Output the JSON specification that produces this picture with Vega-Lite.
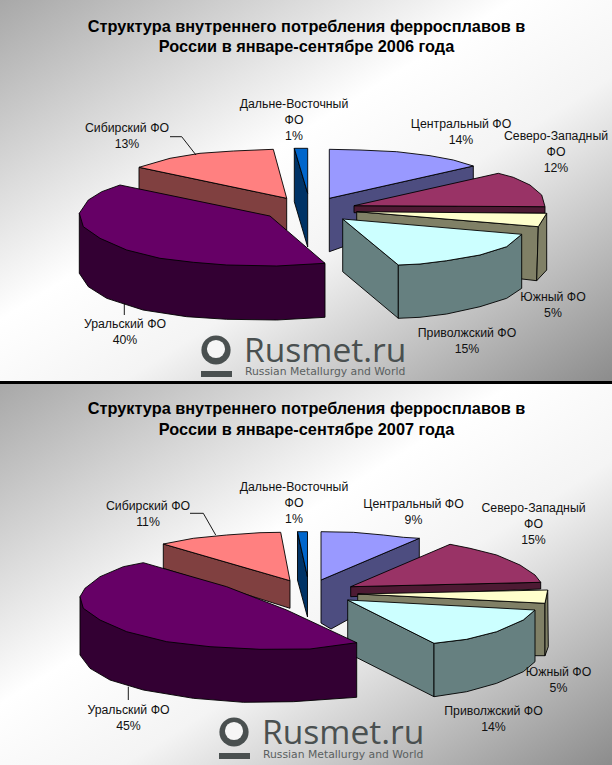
{"$schema":"https://vega.github.io/schema/vega-lite/v6.json","width":612,"height":765,"padding":0,"autosize":{"type":"none"},"background":"#ffffff","config":{"view":{"stroke":null}},
"encoding":{"x":{"field":"x","type":"quantitative","axis":null,"scale":{"domain":[0,612],"nice":false,"zero":false}},"y":{"field":"y","type":"quantitative","axis":null,"scale":{"domain":[765,0],"nice":false,"zero":false}}},
"layer":[
{"data":{"values":[{"x":0,"x2":612,"y":0,"y2":381},{"x":0,"x2":612,"y":384,"y2":765}]},"mark":{"type":"rect","fill":{"gradient":"linear","x1":0,"y1":0,"x2":1,"y2":1,"stops":[{"offset":0,"color":"#a8a8a8"},{"offset":0.42,"color":"#ffffff"},{"offset":0.6,"color":"#f4f4f4"},{"offset":1,"color":"#8c8c8c"}]}},"encoding":{"x2":{"field":"x2"},"y2":{"field":"y2"}}},
{"data":{"values":[{"x":0,"x2":612,"y":381,"y2":384}]},"mark":{"type":"rect","fill":"#000000"},"encoding":{"x2":{"field":"x2"},"y2":{"field":"y2"}}},
{"data":{"values":[
{"id":"a01","face":"central-side","i":0,"x":329.3,"y":198.3},{"id":"a01","face":"central-side","i":1,"x":473.3,"y":166},{"id":"a01","face":"central-side","i":2,"x":473.3,"y":200},{"id":"a01","face":"central-side","i":3,"x":329.3,"y":251.7},{"id":"a01","face":"central-side","i":4,"x":329.3,"y":198.3},
{"id":"a02","face":"central-top","i":0,"x":329.3,"y":149.3},{"id":"a02","face":"central-top","i":1,"x":360,"y":150},{"id":"a02","face":"central-top","i":2,"x":396.7,"y":151.7},{"id":"a02","face":"central-top","i":3,"x":430,"y":155.7},{"id":"a02","face":"central-top","i":4,"x":453.3,"y":160},{"id":"a02","face":"central-top","i":5,"x":473.3,"y":166},{"id":"a02","face":"central-top","i":6,"x":329.3,"y":198.3},{"id":"a02","face":"central-top","i":7,"x":329.3,"y":149.3},
{"id":"a03","face":"fe-side","i":0,"x":294.3,"y":148.3},{"id":"a03","face":"fe-side","i":1,"x":307.7,"y":193.3},{"id":"a03","face":"fe-side","i":2,"x":307.7,"y":247},{"id":"a03","face":"fe-side","i":3,"x":294.3,"y":201.7},{"id":"a03","face":"fe-side","i":4,"x":294.3,"y":148.3},
{"id":"a04","face":"fe-top","i":0,"x":294.3,"y":148.3},{"id":"a04","face":"fe-top","i":1,"x":307.7,"y":148.3},{"id":"a04","face":"fe-top","i":2,"x":307.7,"y":193.3},{"id":"a04","face":"fe-top","i":3,"x":294.3,"y":148.3},
{"id":"a05","face":"nw-side","i":0,"x":354,"y":205.7},{"id":"a05","face":"nw-side","i":1,"x":545,"y":206.7},{"id":"a05","face":"nw-side","i":2,"x":545,"y":213.3},{"id":"a05","face":"nw-side","i":3,"x":354,"y":212.7},{"id":"a05","face":"nw-side","i":4,"x":354,"y":205.7},
{"id":"a06","face":"nw-top","i":0,"x":354,"y":205.7},{"id":"a06","face":"nw-top","i":1,"x":498.3,"y":173.3},{"id":"a06","face":"nw-top","i":2,"x":513.3,"y":177.3},{"id":"a06","face":"nw-top","i":3,"x":530,"y":185},{"id":"a06","face":"nw-top","i":4,"x":541.7,"y":195},{"id":"a06","face":"nw-top","i":5,"x":545,"y":206.7},{"id":"a06","face":"nw-top","i":6,"x":354,"y":205.7},
{"id":"a07","face":"south-side","i":0,"x":356.7,"y":211.7},{"id":"a07","face":"south-side","i":1,"x":538.3,"y":226.7},{"id":"a07","face":"south-side","i":2,"x":536.7,"y":280.7},{"id":"a07","face":"south-side","i":3,"x":522,"y":279},{"id":"a07","face":"south-side","i":4,"x":356.7,"y":250},{"id":"a07","face":"south-side","i":5,"x":356.7,"y":211.7},
{"id":"a08","face":"south-side","i":0,"x":538.3,"y":226.7},{"id":"a08","face":"south-side","i":1,"x":546.7,"y":213.3},{"id":"a08","face":"south-side","i":2,"x":546.7,"y":270},{"id":"a08","face":"south-side","i":3,"x":536.7,"y":280.7},{"id":"a08","face":"south-side","i":4,"x":538.3,"y":226.7},
{"id":"a09","face":"south-top","i":0,"x":356.7,"y":211.7},{"id":"a09","face":"south-top","i":1,"x":546.7,"y":213.3},{"id":"a09","face":"south-top","i":2,"x":538.3,"y":226.7},{"id":"a09","face":"south-top","i":3,"x":356.7,"y":211.7},
{"id":"a10","face":"volga-side","i":0,"x":342.7,"y":219},{"id":"a10","face":"volga-side","i":1,"x":398.3,"y":265},{"id":"a10","face":"volga-side","i":2,"x":398.3,"y":318.3},{"id":"a10","face":"volga-side","i":3,"x":342.7,"y":271.7},{"id":"a10","face":"volga-side","i":4,"x":342.7,"y":219},
{"id":"a11","face":"volga-side","i":0,"x":398.3,"y":265},{"id":"a11","face":"volga-side","i":1,"x":420,"y":264},{"id":"a11","face":"volga-side","i":2,"x":446.7,"y":260.7},{"id":"a11","face":"volga-side","i":3,"x":480,"y":255},{"id":"a11","face":"volga-side","i":4,"x":506.7,"y":246.7},{"id":"a11","face":"volga-side","i":5,"x":521.7,"y":234.3},{"id":"a11","face":"volga-side","i":6,"x":521.7,"y":288.3},{"id":"a11","face":"volga-side","i":7,"x":506.7,"y":298.3},{"id":"a11","face":"volga-side","i":8,"x":480,"y":306.7},{"id":"a11","face":"volga-side","i":9,"x":446.7,"y":314},{"id":"a11","face":"volga-side","i":10,"x":420,"y":317.3},{"id":"a11","face":"volga-side","i":11,"x":398.3,"y":318.3},{"id":"a11","face":"volga-side","i":12,"x":398.3,"y":265},
{"id":"a12","face":"volga-top","i":0,"x":342.7,"y":219},{"id":"a12","face":"volga-top","i":1,"x":521.7,"y":234.3},{"id":"a12","face":"volga-top","i":2,"x":506.7,"y":246.7},{"id":"a12","face":"volga-top","i":3,"x":480,"y":255},{"id":"a12","face":"volga-top","i":4,"x":446.7,"y":260.7},{"id":"a12","face":"volga-top","i":5,"x":420,"y":264},{"id":"a12","face":"volga-top","i":6,"x":398.3,"y":265},{"id":"a12","face":"volga-top","i":7,"x":342.7,"y":219},
{"id":"a13","face":"sib-side","i":0,"x":139,"y":167.3},{"id":"a13","face":"sib-side","i":1,"x":286.7,"y":198.3},{"id":"a13","face":"sib-side","i":2,"x":286.7,"y":230},{"id":"a13","face":"sib-side","i":3,"x":139,"y":190},{"id":"a13","face":"sib-side","i":4,"x":139,"y":167.3},
{"id":"a14","face":"sib-top","i":0,"x":273.3,"y":149.3},{"id":"a14","face":"sib-top","i":1,"x":286.7,"y":198.3},{"id":"a14","face":"sib-top","i":2,"x":139,"y":167.3},{"id":"a14","face":"sib-top","i":3,"x":170,"y":158.3},{"id":"a14","face":"sib-top","i":4,"x":200,"y":153.3},{"id":"a14","face":"sib-top","i":5,"x":233.3,"y":151},{"id":"a14","face":"sib-top","i":6,"x":273.3,"y":149.3},
{"id":"a15","face":"ural-side","i":0,"x":79.3,"y":213.3},{"id":"a15","face":"ural-side","i":1,"x":79.3,"y":273.3},{"id":"a15","face":"ural-side","i":2,"x":88.3,"y":286.7},{"id":"a15","face":"ural-side","i":3,"x":106.7,"y":298.3},{"id":"a15","face":"ural-side","i":4,"x":143,"y":310},{"id":"a15","face":"ural-side","i":5,"x":186.7,"y":316.7},{"id":"a15","face":"ural-side","i":6,"x":226.7,"y":319.3},{"id":"a15","face":"ural-side","i":7,"x":276.7,"y":320},{"id":"a15","face":"ural-side","i":8,"x":325,"y":317.3},{"id":"a15","face":"ural-side","i":9,"x":325,"y":263.3},{"id":"a15","face":"ural-side","i":10,"x":79.3,"y":213.3},
{"id":"a16","face":"ural-top","i":0,"x":325,"y":263.3},{"id":"a16","face":"ural-top","i":1,"x":270,"y":216},{"id":"a16","face":"ural-top","i":2,"x":120,"y":185},{"id":"a16","face":"ural-top","i":3,"x":101.7,"y":191.7},{"id":"a16","face":"ural-top","i":4,"x":88.3,"y":200},{"id":"a16","face":"ural-top","i":5,"x":79.3,"y":213.3},{"id":"a16","face":"ural-top","i":6,"x":83.3,"y":226.7},{"id":"a16","face":"ural-top","i":7,"x":100,"y":238.3},{"id":"a16","face":"ural-top","i":8,"x":126.7,"y":250},{"id":"a16","face":"ural-top","i":9,"x":160,"y":258.3},{"id":"a16","face":"ural-top","i":10,"x":193.3,"y":262.3},{"id":"a16","face":"ural-top","i":11,"x":226.7,"y":265},{"id":"a16","face":"ural-top","i":12,"x":276.7,"y":266},{"id":"a16","face":"ural-top","i":13,"x":325,"y":263.3},

{"id":"b01","face":"central-side","i":0,"x":321,"y":580},{"id":"b01","face":"central-side","i":1,"x":419.3,"y":538.3},{"id":"b01","face":"central-side","i":2,"x":419.3,"y":580},{"id":"b01","face":"central-side","i":3,"x":331,"y":629},{"id":"b01","face":"central-side","i":4,"x":321,"y":623},{"id":"b01","face":"central-side","i":5,"x":321,"y":580},
{"id":"b02","face":"central-top","i":0,"x":321,"y":531.7},{"id":"b02","face":"central-top","i":1,"x":353.3,"y":532.3},{"id":"b02","face":"central-top","i":2,"x":383.3,"y":535},{"id":"b02","face":"central-top","i":3,"x":403.3,"y":537.3},{"id":"b02","face":"central-top","i":4,"x":419.3,"y":538.3},{"id":"b02","face":"central-top","i":5,"x":321,"y":580},{"id":"b02","face":"central-top","i":6,"x":321,"y":531.7},
{"id":"b03","face":"fe-side","i":0,"x":297.5,"y":531.7},{"id":"b03","face":"fe-side","i":1,"x":307.5,"y":577},{"id":"b03","face":"fe-side","i":2,"x":307.5,"y":617},{"id":"b03","face":"fe-side","i":3,"x":297.5,"y":580},{"id":"b03","face":"fe-side","i":4,"x":297.5,"y":531.7},
{"id":"b04","face":"fe-top","i":0,"x":297.5,"y":531.7},{"id":"b04","face":"fe-top","i":1,"x":307.5,"y":531.7},{"id":"b04","face":"fe-top","i":2,"x":307.5,"y":577},{"id":"b04","face":"fe-top","i":3,"x":297.5,"y":531.7},
{"id":"b05","face":"nw-side","i":0,"x":350.7,"y":586.7},{"id":"b05","face":"nw-side","i":1,"x":540.7,"y":582.3},{"id":"b05","face":"nw-side","i":2,"x":540.7,"y":589},{"id":"b05","face":"nw-side","i":3,"x":350.7,"y":596.7},{"id":"b05","face":"nw-side","i":4,"x":350.7,"y":586.7},
{"id":"b06","face":"nw-top","i":0,"x":350.7,"y":586.7},{"id":"b06","face":"nw-top","i":1,"x":450,"y":544.3},{"id":"b06","face":"nw-top","i":2,"x":470,"y":548.3},{"id":"b06","face":"nw-top","i":3,"x":496.7,"y":555},{"id":"b06","face":"nw-top","i":4,"x":520,"y":565},{"id":"b06","face":"nw-top","i":5,"x":535,"y":575},{"id":"b06","face":"nw-top","i":6,"x":540.7,"y":582.3},{"id":"b06","face":"nw-top","i":7,"x":350.7,"y":586.7},
{"id":"b07","face":"south-side","i":0,"x":357.7,"y":594},{"id":"b07","face":"south-side","i":1,"x":545,"y":603.3},{"id":"b07","face":"south-side","i":2,"x":545,"y":655.7},{"id":"b07","face":"south-side","i":3,"x":530,"y":655.7},{"id":"b07","face":"south-side","i":4,"x":357.7,"y":640},{"id":"b07","face":"south-side","i":5,"x":357.7,"y":594},
{"id":"b08","face":"south-side","i":0,"x":545,"y":603.3},{"id":"b08","face":"south-side","i":1,"x":547.7,"y":590},{"id":"b08","face":"south-side","i":2,"x":548.3,"y":646.7},{"id":"b08","face":"south-side","i":3,"x":545,"y":655.7},{"id":"b08","face":"south-side","i":4,"x":545,"y":603.3},
{"id":"b09","face":"south-top","i":0,"x":357.7,"y":594},{"id":"b09","face":"south-top","i":1,"x":547.7,"y":590},{"id":"b09","face":"south-top","i":2,"x":545,"y":603.3},{"id":"b09","face":"south-top","i":3,"x":357.7,"y":594},
{"id":"b10","face":"volga-side","i":0,"x":347.7,"y":600},{"id":"b10","face":"volga-side","i":1,"x":434,"y":643.3},{"id":"b10","face":"volga-side","i":2,"x":434,"y":696.7},{"id":"b10","face":"volga-side","i":3,"x":347.7,"y":653},{"id":"b10","face":"volga-side","i":4,"x":347.7,"y":600},
{"id":"b11","face":"volga-side","i":0,"x":434,"y":643.3},{"id":"b11","face":"volga-side","i":1,"x":466.7,"y":639.3},{"id":"b11","face":"volga-side","i":2,"x":496.7,"y":631.7},{"id":"b11","face":"volga-side","i":3,"x":523.3,"y":620},{"id":"b11","face":"volga-side","i":4,"x":535,"y":610},{"id":"b11","face":"volga-side","i":5,"x":535,"y":661.7},{"id":"b11","face":"volga-side","i":6,"x":523.3,"y":671.7},{"id":"b11","face":"volga-side","i":7,"x":496.7,"y":683.3},{"id":"b11","face":"volga-side","i":8,"x":466.7,"y":691.7},{"id":"b11","face":"volga-side","i":9,"x":434,"y":696.7},{"id":"b11","face":"volga-side","i":10,"x":434,"y":643.3},
{"id":"b12","face":"volga-top","i":0,"x":347.7,"y":600},{"id":"b12","face":"volga-top","i":1,"x":535,"y":610},{"id":"b12","face":"volga-top","i":2,"x":523.3,"y":620},{"id":"b12","face":"volga-top","i":3,"x":496.7,"y":631.7},{"id":"b12","face":"volga-top","i":4,"x":466.7,"y":639.3},{"id":"b12","face":"volga-top","i":5,"x":434,"y":643.3},{"id":"b12","face":"volga-top","i":6,"x":347.7,"y":600},
{"id":"b13","face":"sib-side","i":0,"x":163.3,"y":544},{"id":"b13","face":"sib-side","i":1,"x":290,"y":580.7},{"id":"b13","face":"sib-side","i":2,"x":290,"y":608.3},{"id":"b13","face":"sib-side","i":3,"x":163.3,"y":568.3},{"id":"b13","face":"sib-side","i":4,"x":163.3,"y":544},
{"id":"b14","face":"sib-top","i":0,"x":280.7,"y":532.3},{"id":"b14","face":"sib-top","i":1,"x":290,"y":580.7},{"id":"b14","face":"sib-top","i":2,"x":163.3,"y":544},{"id":"b14","face":"sib-top","i":3,"x":193.3,"y":538.3},{"id":"b14","face":"sib-top","i":4,"x":226.7,"y":535},{"id":"b14","face":"sib-top","i":5,"x":260,"y":532.7},{"id":"b14","face":"sib-top","i":6,"x":280.7,"y":532.3},
{"id":"b15","face":"ural-side","i":0,"x":80,"y":596.7},{"id":"b15","face":"ural-side","i":1,"x":80,"y":655},{"id":"b15","face":"ural-side","i":2,"x":90,"y":668.3},{"id":"b15","face":"ural-side","i":3,"x":110,"y":680},{"id":"b15","face":"ural-side","i":4,"x":143.3,"y":690},{"id":"b15","face":"ural-side","i":5,"x":193.3,"y":698.3},{"id":"b15","face":"ural-side","i":6,"x":243.3,"y":702.3},{"id":"b15","face":"ural-side","i":7,"x":293.3,"y":701.7},{"id":"b15","face":"ural-side","i":8,"x":356.7,"y":697.3},{"id":"b15","face":"ural-side","i":9,"x":356.7,"y":642.7},{"id":"b15","face":"ural-side","i":10,"x":80,"y":596.7},
{"id":"b16","face":"ural-top","i":0,"x":356.7,"y":642.7},{"id":"b16","face":"ural-top","i":1,"x":286.7,"y":610},{"id":"b16","face":"ural-top","i":2,"x":226.7,"y":586.7},{"id":"b16","face":"ural-top","i":3,"x":143.3,"y":562.7},{"id":"b16","face":"ural-top","i":4,"x":123.3,"y":566.7},{"id":"b16","face":"ural-top","i":5,"x":100,"y":576.7},{"id":"b16","face":"ural-top","i":6,"x":85,"y":588.3},{"id":"b16","face":"ural-top","i":7,"x":80,"y":596.7},{"id":"b16","face":"ural-top","i":8,"x":83.3,"y":608.3},{"id":"b16","face":"ural-top","i":9,"x":100,"y":620},{"id":"b16","face":"ural-top","i":10,"x":126.7,"y":631.7},{"id":"b16","face":"ural-top","i":11,"x":166.7,"y":641.7},{"id":"b16","face":"ural-top","i":12,"x":210,"y":646.7},{"id":"b16","face":"ural-top","i":13,"x":260,"y":649.3},{"id":"b16","face":"ural-top","i":14,"x":310,"y":649},{"id":"b16","face":"ural-top","i":15,"x":356.7,"y":642.7}
]},"mark":{"type":"line","stroke":"#000000","strokeWidth":0.9,"strokeJoin":"miter","interpolate":"linear"},"encoding":{"detail":{"field":"id"},"order":{"field":"i","type":"quantitative"},"fill":{"field":"face","type":"nominal","legend":null,"scale":{"domain":["central-top","central-side","fe-top","fe-side","nw-top","nw-side","south-top","south-side","volga-top","volga-side","sib-top","sib-side","ural-top","ural-side"],"range":["#9999ff","#4d4d80","#0066cc","#003366","#993366","#4d1a33","#ffffcc","#808066","#ccffff","#668080","#ff8080","#804040","#660066","#330033"]}}}},
{"data":{"values":[{"id":"l1","i":0,"x":170,"y":136.7},{"id":"l1","i":1,"x":181.7,"y":136.7},{"id":"l1","i":2,"x":196,"y":155},{"id":"l2","i":0,"x":124.3,"y":303.3},{"id":"l2","i":1,"x":124.3,"y":315},{"id":"l3","i":0,"x":190,"y":513.3},{"id":"l3","i":1,"x":203.3,"y":513.3},{"id":"l3","i":2,"x":215.7,"y":535},{"id":"l4","i":0,"x":128.3,"y":686.7},{"id":"l4","i":1,"x":128.3,"y":700}]},"mark":{"type":"line","stroke":"#000000","strokeWidth":0.9},"encoding":{"detail":{"field":"id"},"order":{"field":"i","type":"quantitative"}}},
{"data":{"values":[
{"label":"Структура внутреннего потребления ферросплавов в","x":306.5,"y":27},{"label":"России в январе-сентябре 2006 года","x":306.5,"y":47},
{"label":"Структура внутреннего потребления ферросплавов в","x":306.5,"y":409},{"label":"России в январе-сентябре 2007 года","x":306.5,"y":430}
]},"mark":{"type":"text","font":"Liberation Sans","fontSize":16.3,"fontWeight":"bold","align":"center","baseline":"middle","fill":"#000000"},"encoding":{"text":{"field":"label"}}},
{"data":{"values":[
{"label":"Сибирский ФО\n13%","x":127,"y":128},{"label":"Дальне-Восточный\nФО\n1%","x":294,"y":104},{"label":"Центральный ФО\n14%","x":461,"y":124},{"label":"Северо-Западный\nФО\n12%","x":556,"y":136},{"label":"Южный ФО\n5%","x":553,"y":297},{"label":"Приволжский ФО\n15%","x":467,"y":333},{"label":"Уральский ФО\n40%","x":125,"y":324},
{"label":"Сибирский ФО\n11%","x":148,"y":506},{"label":"Дальне-Восточный\nФО\n1%","x":294,"y":487},{"label":"Центральный ФО\n9%","x":413.5,"y":504},{"label":"Северо-Западный\nФО\n15%","x":533.5,"y":508},{"label":"Южный ФО\n5%","x":558.5,"y":672},{"label":"Приволжский ФО\n14%","x":493.5,"y":711},{"label":"Уральский ФО\n45%","x":128.5,"y":710}
]},"mark":{"type":"text","font":"Liberation Sans","fontSize":12.3,"lineHeight":16,"lineBreak":"\n","align":"center","baseline":"middle","fill":"#111111"},"encoding":{"text":{"field":"label"}}},
{"data":{"values":[{"x":216,"y":350},{"x":234,"y":732}]},"mark":{"type":"point","shape":"circle","filled":true,"fill":"#4a5050","stroke":null,"opacity":1,"size":855}},
{"data":{"values":[{"x":216,"y":349},{"x":234,"y":731}]},"mark":{"type":"point","shape":"circle","filled":true,"fill":"#f6f6f6","stroke":null,"opacity":1,"size":330}},
{"data":{"values":[{"x":201,"x2":232,"y":371,"y2":377},{"x":219,"x2":250,"y":753,"y2":759}]},"mark":{"type":"rect","fill":"#4a5050"},"encoding":{"x2":{"field":"x2"},"y2":{"field":"y2"}}},
{"data":{"values":[{"label":"Rusmet.ru","x":244,"y":362},{"label":"Rusmet.ru","x":262,"y":744}]},"mark":{"type":"text","font":"Open Sans","fontSize":33.6,"align":"left","baseline":"alphabetic","fill":"#4a5050"},"encoding":{"text":{"field":"label"}}},
{"data":{"values":[{"label":"Russian Metallurgy and World","x":245,"y":372},{"label":"Russian Metallurgy and World","x":263,"y":755}]},"mark":{"type":"text","font":"DejaVu Sans","fontSize":10.8,"align":"left","baseline":"middle","fill":"#5a6060"},"encoding":{"text":{"field":"label"}}}
]}
